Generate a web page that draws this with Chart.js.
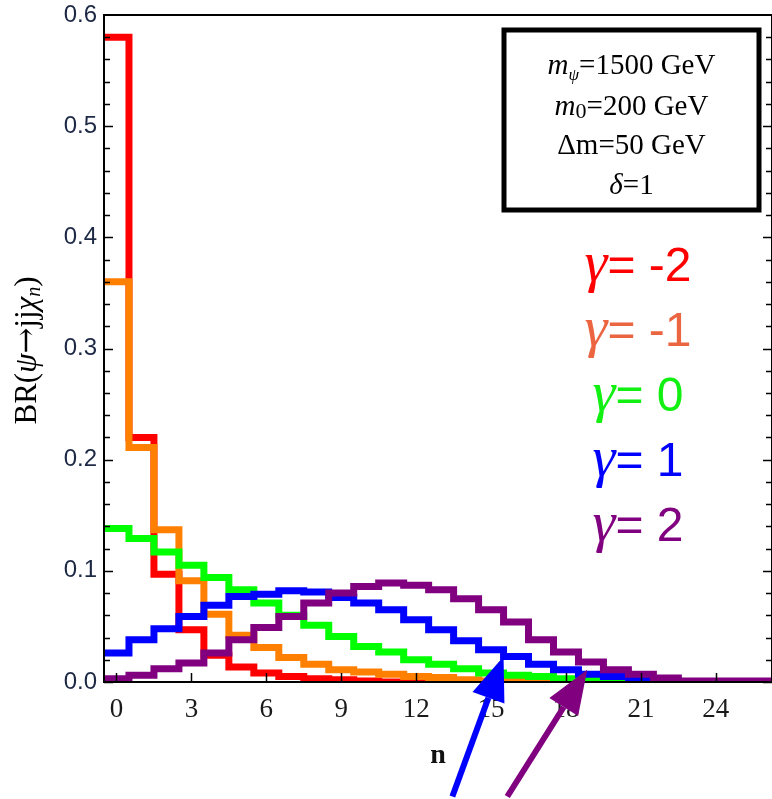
<!DOCTYPE html>
<html>
<head>
<meta charset="utf-8">
<script src="https://cdn.jsdelivr.net/npm/chart.js@4.4.0/dist/chart.umd.min.js"></script>
<style>
  html, body { margin: 0; padding: 0; background: #fff; }
  canvas { display: block; }
</style>
</head>
<body>
<canvas id="chart" width="772" height="799"></canvas>
<script>
// bin centres
const nBins = [0,1,2,3,4,5,6,7,8,9,10,11,12,13,14,15,16,17,18,19,20,21,22,23,24,25,26];

// BR(psi -> jj chi_n) for each gamma
const brGammaM2 = [0.580,0.220,0.097,0.047,0.024,0.0135,0.008,0.005,0.003,0.002,0.001,0,0,0,0,0,0,0,0,0,0,0,0,0,0,0,0];
const brGammaM1 = [0.360,0.211,0.137,0.091,0.061,0.042,0.031,0.022,0.016,0.011,0.009,0.007,0.005,0.004,0.002,0.001,0.001,0,0,0,0,0,0,0,0,0,0];
const brGamma0  = [0.138,0.129,0.117,0.105,0.094,0.083,0.071,0.060,0.051,0.041,0.032,0.027,0.020,0.016,0.012,0.008,0.006,0.005,0.003,0.002,0.002,0.001,0,0,0,0,0];
const brGamma1  = [0.026,0.038,0.048,0.059,0.069,0.077,0.079,0.082,0.081,0.076,0.071,0.065,0.056,0.047,0.037,0.029,0.023,0.016,0.011,0.007,0.005,0.003,0.001,0,0,0,0];
const brGamma2  = [0.003,0.006,0.012,0.017,0.026,0.038,0.049,0.059,0.071,0.080,0.086,0.089,0.087,0.083,0.075,0.065,0.054,0.038,0.027,0.018,0.011,0.007,0.0035,0.001,0.001,0.001,0.001];

const gammaValues = ['-2', '-1', '0', '1', '2'];
const lineColors  = ['#ff0000', '#ff8000', '#00ff00', '#0000ff', '#800080'];
const labelColors = ['#ff0000', '#ec6541', '#12f012', '#0000ff', '#800080'];

const xTicks = [0, 3, 6, 9, 12, 15, 18, 21, 24];
const yTicks = [0, 0.1, 0.2, 0.3, 0.4, 0.5, 0.6];

// arrows: tail and tip in (n, BR)
const arrows = [
  { color: '#0000ff', from: [13.45, -0.103], to: [15.5, 0.023] },
  { color: '#800080', from: [15.65, -0.103], to: [18.85, 0.011] }
];

function histPoints(vals) {
  const pts = vals.map((v, i) => ({ x: nBins[i] - 0.5, y: v }));
  pts.push({ x: nBins[nBins.length - 1] + 0.5, y: vals[vals.length - 1] });
  return pts;
}

const series = [brGammaM2, brGammaM1, brGamma0, brGamma1, brGamma2];
const datasets = series.map((vals, i) => ({
  label: 'γ=' + gammaValues[i],
  data: histPoints(vals),
  borderColor: lineColors[i],
  borderWidth: 7,
  stepped: 'before',
  pointRadius: 0,
  fill: false,
  borderJoinStyle: 'miter',
  borderCapStyle: 'butt',
  order: series.length - i
}));

function drawRuns(ctx, runs, cx, baseline) {
  let total = 0;
  runs.forEach(r => { ctx.font = r.font; r.w = ctx.measureText(r.t).width; total += r.w; });
  let x = cx - total / 2;
  runs.forEach(r => {
    ctx.font = r.font;
    ctx.fillStyle = r.color || '#000';
    ctx.fillText(r.t, x, baseline + (r.dy || 0));
    x += r.w;
  });
}

const decor = {
  id: 'decor',
  afterDatasetsDraw(chart) {
    const { ctx, chartArea: a, scales: { x, y } } = chart;
    ctx.save();
    ctx.strokeStyle = '#000';
    ctx.lineWidth = 2;
    ctx.strokeRect(a.left, a.top, a.right - a.left, a.bottom - a.top);

    // y ticks, left and right, pointing inward
    ctx.lineWidth = 1.5;
    for (let k = 0; k < yTicks.length - 1; k++) {
      for (let j = 0; j < 5; j++) {
        const v = yTicks[k] + j * (yTicks[k + 1] - yTicks[k]) / 5;
        const py = Math.round(y.getPixelForValue(v)) + 0.5;
        const len = j === 0 ? 9 : 6;
        ctx.beginPath();
        ctx.moveTo(a.left, py); ctx.lineTo(a.left + len, py);
        ctx.moveTo(a.right, py); ctx.lineTo(a.right - len, py);
        ctx.stroke();
      }
    }
    // x ticks at bottom
    xTicks.forEach(v => {
      const px = Math.round(x.getPixelForValue(v)) + 0.5;
      ctx.beginPath(); ctx.moveTo(px, a.bottom); ctx.lineTo(px, a.bottom - 9); ctx.stroke();
    });

    // y axis title
    ctx.save();
    ctx.translate(28, (a.top + a.bottom) / 2 + 2);
    ctx.rotate(-Math.PI / 2);
    ctx.textBaseline = 'middle';
    drawRuns(ctx, [
      { t: 'BR(', font: '31px "Liberation Serif"' },
      { t: 'ψ', font: 'italic 31px "Liberation Serif"' },
      { t: '→', font: '31px "DejaVu Serif"' },
      { t: 'jj', font: '31px "Liberation Serif"' },
      { t: 'χ', font: 'italic 31px "Liberation Serif"' },
      { t: 'n', font: 'italic 20px "Liberation Serif"', dy: 7 },
      { t: ')', font: '31px "Liberation Serif"' }
    ], 0, 0);
    ctx.restore();

    // parameter box
    const bx = a.right - 268, by = a.top + 15, bw = 255, bh = 180;
    ctx.lineWidth = 5;
    ctx.strokeRect(bx, by, bw, bh);
    ctx.textBaseline = 'alphabetic';
    const cx = bx + bw / 2;
    const serif = '"Liberation Serif"';
    drawRuns(ctx, [
      { t: 'm', font: 'italic 29px ' + serif },
      { t: 'ψ', font: 'italic 17px ' + serif, dy: 6 },
      { t: '=1500 GeV', font: '29px ' + serif }
    ], cx, by + 44);
    drawRuns(ctx, [
      { t: 'm', font: 'italic 29px ' + serif },
      { t: '0', font: '22px ' + serif, dy: 3 },
      { t: '=200 GeV', font: '29px ' + serif }
    ], cx, by + 85);
    drawRuns(ctx, [
      { t: 'Δm=50 GeV', font: '29px ' + serif }
    ], cx, by + 124);
    drawRuns(ctx, [
      { t: 'δ', font: 'italic 29px ' + serif },
      { t: '=1', font: '29px ' + serif }
    ], cx, by + 164);

    // gamma legend
    gammaValues.forEach((g, i) => {
      drawRuns(ctx, [
        { t: 'γ', font: 'italic 58px ' + serif, color: labelColors[i] },
        { t: '= ' + g, font: '48px "Liberation Sans"', color: labelColors[i] }
      ], 638, 281 + i * 65);
    });

    // arrows
    arrows.forEach(ar => {
      const x0 = x.getPixelForValue(ar.from[0]), y0 = y.getPixelForValue(ar.from[1]);
      const x1 = x.getPixelForValue(ar.to[0]), y1 = y.getPixelForValue(ar.to[1]);
      const ang = Math.atan2(y1 - y0, x1 - x0);
      const headLen = 44, headW = 17;
      const bxp = x1 - headLen * Math.cos(ang), byp = y1 - headLen * Math.sin(ang);
      ctx.strokeStyle = ar.color; ctx.fillStyle = ar.color;
      ctx.lineWidth = 6;
      ctx.beginPath(); ctx.moveTo(x0, y0); ctx.lineTo(bxp, byp); ctx.stroke();
      ctx.beginPath();
      ctx.moveTo(x1, y1);
      ctx.lineTo(bxp + headW * Math.sin(ang), byp - headW * Math.cos(ang));
      ctx.lineTo(bxp - headW * Math.sin(ang), byp + headW * Math.cos(ang));
      ctx.closePath(); ctx.fill();
    });
    ctx.restore();
  }
};

new Chart(document.getElementById('chart'), {
  type: 'line',
  data: { datasets },
  options: {
    responsive: false,
    animation: false,
    layout: { padding: { top: 15, right: 0, left: 0, bottom: 0 } },
    plugins: { legend: { display: false }, tooltip: { enabled: false } },
    scales: {
      x: {
        type: 'linear',
        min: -0.5,
        max: 26.25,
        grid: { display: false, drawTicks: false },
        border: { display: false },
        afterBuildTicks: s => { s.ticks = xTicks.map(v => ({ value: v })); },
        afterFit: s => { s.height = 117; s.paddingLeft = 0; s.paddingRight = 0; },
        ticks: {
          padding: 12,
          maxRotation: 0,
          color: '#1a1a1a',
          font: { family: 'Liberation Serif', size: 27 },
          callback: v => String(v)
        },
        title: {
          display: true,
          text: 'n',
          color: '#111',
          font: { family: 'Liberation Serif', size: 28, weight: 'bold' },
          padding: { top: 0, bottom: 26 }
        }
      },
      y: {
        min: 0,
        max: 0.6,
        grid: { display: false, drawTicks: false },
        border: { display: false },
        afterBuildTicks: s => { s.ticks = yTicks.map(v => ({ value: v })); },
        afterFit: s => { s.width = 104; s.paddingTop = 0; s.paddingBottom = 0; },
        ticks: {
          padding: 7,
          color: '#1c2844',
          font: { family: 'Liberation Sans', size: 24 },
          callback: v => v.toFixed(1)
        }
      }
    }
  },
  plugins: [decor]
});
</script>
</body>
</html>
